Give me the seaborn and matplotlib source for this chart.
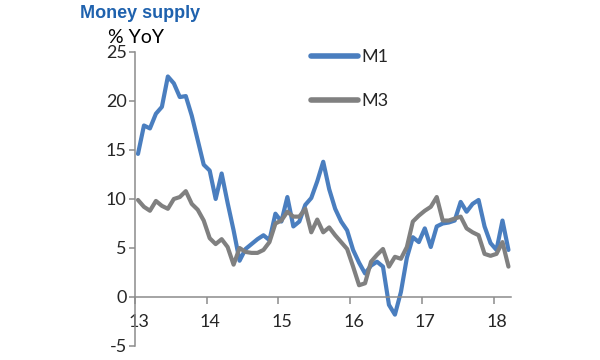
import numpy as np
import pandas as pd
import matplotlib
matplotlib.use("Agg")
import matplotlib.pyplot as plt
import matplotlib.transforms as mtransforms
import seaborn as sns

# monthly % YoY, Jan 2013 - Mar 2018
m1 = [14.6, 17.5, 17.2, 18.7, 19.4, 22.5, 21.8, 20.4, 20.5, 18.5, 16.0, 13.5,
      12.9, 10.0, 12.6, 9.6, 6.8, 3.7, 4.9, 5.4, 5.9, 6.3, 5.8, 8.5,
      7.7, 10.2, 7.2, 7.7, 9.4, 10.1, 11.8, 13.8, 11.0, 9.0, 7.7, 6.8,
      4.8, 3.5, 2.4, 3.2, 3.6, 3.1, -0.8, -1.8, 0.5, 4.0, 6.1, 5.6,
      7.0, 5.1, 7.2, 7.5, 7.6, 7.8, 9.7, 8.7, 9.5, 9.9, 7.2, 5.5,
      4.8, 7.8, 4.8]
m3 = [9.9, 9.2, 8.8, 9.8, 9.3, 9.0, 10.0, 10.2, 10.8, 9.5, 8.9, 7.8,
      6.0, 5.4, 5.9, 5.1, 3.3, 5.0, 4.6, 4.5, 4.5, 4.8, 5.6, 7.5,
      7.8, 8.7, 8.2, 8.2, 9.0, 6.6, 7.9, 6.6, 7.1, 6.3, 5.6, 4.9,
      3.1, 1.2, 1.4, 3.6, 4.3, 4.9, 3.1, 4.1, 3.9, 5.1, 7.7, 8.3,
      8.8, 9.2, 10.2, 7.8, 7.8, 8.0, 8.2, 7.0, 6.6, 6.3, 4.4, 4.2,
      4.4, 5.6, 3.1]
year_ticks = [13, 14, 15, 16, 17, 18]
y_ticks = [-5, 0, 5, 10, 15, 20, 25]

# mid-month positions in years
t = 13 + (np.arange(len(m1)) + 0.5) / 12
df = pd.DataFrame({"t": np.concatenate([t, t]),
                   "v": m1 + m3,
                   "series": ["M1"] * len(m1) + ["M3"] * len(m3)})

sns.set_style("white")
plt.rcParams["font.family"] = ["Lato", "DejaVu Sans"]
plt.rcParams["axes.unicode_minus"] = False

fig = plt.figure(figsize=(6, 3.6), dpi=100)
ax = fig.add_axes([0.225, 0.0389, 0.6274, 0.8167])

sns.lineplot(data=df, x="t", y="v", hue="series",
             palette={"M1": "#4A7EBF", "M3": "#808080"},
             linewidth=3, ax=ax)

ax.set_xlim(13, 18.25)
ax.set_ylim(-5, 25)
ax.set_xticks(year_ticks)
ax.set_xticklabels([str(y) for y in year_ticks])
ax.set_yticks(y_ticks)
ax.set_xlabel("")
ax.set_ylabel("")

for s in ["top", "right"]:
    ax.spines[s].set_visible(False)
ax.spines["bottom"].set_position(("data", 0))
for s in ["left", "bottom"]:
    ax.spines[s].set_color("#8C8C8C")
    ax.spines[s].set_linewidth(1.1)

ax.tick_params(axis="y", direction="out", length=4, width=1.1,
               color="#8C8C8C", labelsize=13, pad=2, left=True)
ax.tick_params(axis="x", direction="out", length=5, width=1.1,
               color="#8C8C8C", labelsize=13, pad=7, bottom=True)
offset = mtransforms.ScaledTranslation(0.035, 0, fig.dpi_scale_trans)
for lab in ax.get_xticklabels():
    lab.set_transform(lab.get_transform() + offset)

leg = ax.legend(loc="upper left", bbox_to_anchor=(0.425, 1.065),
                frameon=False, fontsize=13, handlelength=2.6,
                handletextpad=0.15, labelspacing=1.55)
for line in leg.get_lines():
    line.set_linewidth(4)
    line.set_solid_capstyle("round")

fig.text(0.133, 0.963, "Money supply", color="#1F62AE", fontsize=13,
         fontweight="bold", family=["Liberation Sans", "DejaVu Sans"],
         va="center", ha="left")
fig.text(0.18, 0.897, "% YoY", color="black", fontsize=14,
         va="center", ha="left")

fig.savefig("out.png", dpi=100)
